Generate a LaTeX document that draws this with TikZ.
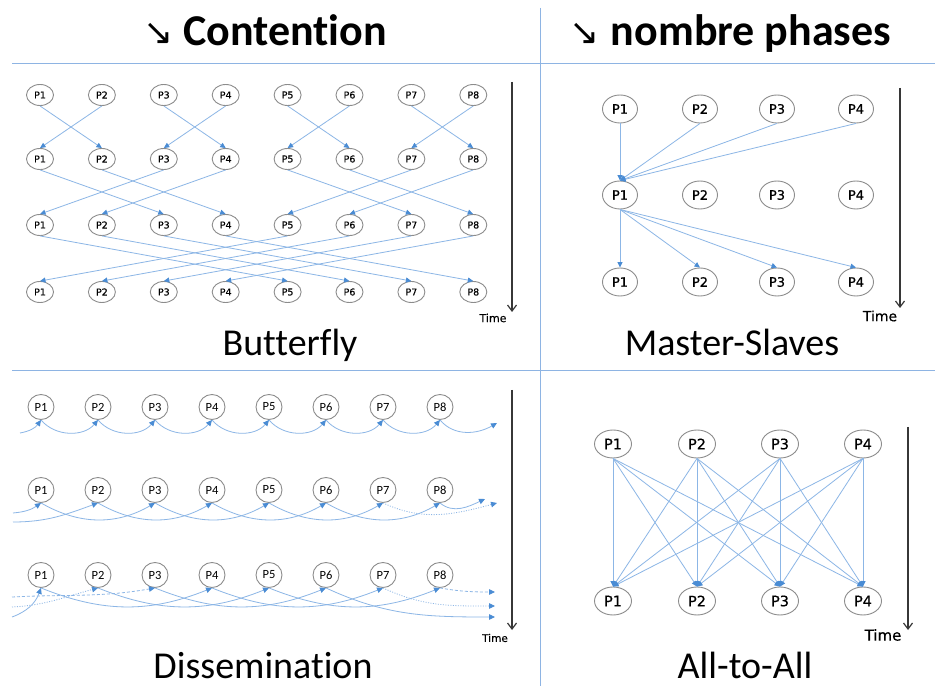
\documentclass[tikz,border=0pt]{standalone}
\usepackage{fontspec}
\setmainfont{Carlito}[Ligatures=NoCommon]
\newfontfamily\procfont{DejaVu Sans}[FakeBold=0.4]
\newfontfamily\symfont{DejaVu Sans}
\usetikzlibrary{arrows.meta,shapes.geometric}

\definecolor{rulecol}{RGB}{142,180,227}
\definecolor{linkcol}{RGB}{140,182,230}
\definecolor{tipcol}{RGB}{74,140,212}
\definecolor{ringcol}{RGB}{140,140,140}
\definecolor{clockcol}{RGB}{55,55,55}

\begin{document}
\begin{tikzpicture}[x=1pt,y=1pt,
  proc/.style={ellipse, draw=ringcol, line width=0.9pt, inner sep=0pt, fill=white},
  bproc/.style={proc, minimum width=27pt, minimum height=21pt,
    font=\procfont\fontsize{9.5}{10}\selectfont},
  mproc/.style={proc, minimum width=35pt, minimum height=28pt,
    font=\procfont\fontsize{13}{14}\selectfont},
  aproc/.style={proc, minimum width=37pt, minimum height=28pt,
    font=\procfont\fontsize{14.5}{15}\selectfont},
  dproc/.style={proc, minimum width=26pt, minimum height=25pt,
    font=\fontsize{12.5}{13}\selectfont},
  msg/.style={draw=linkcol, line width=0.8pt,
    -{Triangle[length=5.5pt,width=5pt,color=tipcol]}},
  dmsg/.style={msg, -{Triangle[length=6pt,width=5.5pt,color=tipcol]}},
  dashmsg/.style={dmsg, dash pattern=on 3pt off 2pt},
  dotmsg/.style={dmsg, dash pattern=on 1pt off 1.5pt},
  rulel/.style={draw=rulecol, line width=0.9pt},
  clock/.style={draw=clockcol, line width=1.2pt,
    -{Straight Barb[length=6pt,width=9pt]}},
  timelbl/.style={font=\procfont\fontsize{#1}{#1}\selectfont, inner sep=0pt},
  head/.style={font=\fontsize{44}{48}\selectfont\bfseries, inner sep=0pt, anchor=base},
  arrowglyph/.style={font=\symfont\fontsize{36}{38}\selectfont, inner sep=0pt},
  caption/.style={font=\fontsize{38}{40}\selectfont, inner sep=0pt, anchor=base}
]
\useasboundingbox (0,0) rectangle (935,686);
\fill[white] (0,0) rectangle (935,686);

% frame rules
\coordinate (rt-l) at (12,623);  \coordinate (rt-r) at (935,623);
\coordinate (rm-l) at (12,316);  \coordinate (rm-r) at (935,316);
\coordinate (rv-t) at (540,678); \coordinate (rv-b) at (540,0);
\draw[rulel] (rt-l) -- (rt-r);
\draw[rulel] (rm-l) -- (rm-r);
\draw[rulel] (rv-t) -- (rv-b);

% column headings
\node[arrowglyph] (ha1) at (159,652) {↘};
\node[head] (h1) at (285,640) {Contention};
\node[arrowglyph] (ha2) at (585,652) {↘};
\node[head] (h2) at (751,640) {nombre phases};

% ---------------- Butterfly ----------------
\foreach \r/\yy in {1/591,2/527,3/461,4/394}
  \foreach \i in {1,...,8}
    \node[bproc] (b\r-\i) at ({40+61.9*(\i-1)},\yy) {P\i};
\foreach \s/\t in {1/2,2/1,3/4,4/3,5/6,6/5,7/8,8/7}
  \draw[msg] (b1-\s.south) -- (b2-\t.north);
\foreach \s/\t in {1/3,2/4,3/1,4/2,5/7,6/8,7/5,8/6}
  \draw[msg] (b2-\s.south) -- (b3-\t.north);
\foreach \s/\t in {1/5,2/6,3/7,4/8,5/1,6/2,7/3,8/4}
  \draw[msg] (b3-\s.south) -- (b4-\t.north);
\coordinate (tb-top) at (512,604); \coordinate (tb-bot) at (512,374);
\draw[clock] (tb-top) -- (tb-bot);
\node[timelbl=11] (tb) at (493,368) {Time};
\node[caption] (cap-b) at (290,330) {Butterfly};

% ---------------- Master-Slaves ----------------
\foreach \r/\yy in {1/577,2/491,3/404}
  \foreach \i/\xx in {1/620,2/700,3/777,4/856}
    \node[mproc] (m\r-\i) at (\xx,\yy) {P\i};
\foreach \s in {1,...,4}
  \draw[msg] (m1-\s.south) -- (m2-1.north);
\foreach \t in {1,...,4}
  \draw[msg] (m2-1.south) -- (m3-\t.north);
\coordinate (tm-top) at (900,598); \coordinate (tm-bot) at (900,378);
\draw[clock] (tm-top) -- (tm-bot);
\node[timelbl=14] (tm) at (880,370) {Time};
\node[caption] (cap-m) at (732,330) {Master-Slaves};

% ---------------- Dissemination ----------------
\foreach \r/\yy in {1/279,2/196,3/111}
  \foreach \i in {1,...,8}
    \node[dproc] (d\r-\i) at ({41+57*(\i-1)},\yy) {P\i};

% round 1: distance 1
\coordinate (d1-in) at (20,253);
\coordinate (d1-out) at (497,263);
\draw[dmsg] (d1-in) to[out=10,in=-125] (d1-1.south);
\foreach \s/\t in {1/2,2/3,3/4,4/5,5/6,6/7,7/8}
  \draw[dmsg] (d1-\s.south) to[out=-50,in=-130] (d1-\t.south);
\draw[dmsg] (d1-8.south) to[out=-50,in=-150] (d1-out);

% round 2: distance 2
\coordinate (d2-inA) at (13,173);
\coordinate (d2-inB) at (13,164);
\coordinate (d2-outA) at (485,187);
\coordinate (d2-outB) at (497,183);
\draw[dmsg] (d2-inA) to[out=5,in=-145] (d2-1.south);
\draw[dmsg] (d2-inB) to[out=0,in=-160] (d2-2.south);
\foreach \s/\t in {1/3,2/4,3/5,4/6,5/7,6/8}
  \draw[dmsg] (d2-\s.south) to[out=-30,in=-150] (d2-\t.south);
\draw[dmsg] (d2-8.south) to[out=-40,in=-155] (d2-outA);
\draw[dotmsg] (d2-7.south) to[out=-25,in=-165] (d2-outB);

% round 3: distance 3
\coordinate (d3-inA) at (12,89);
\coordinate (d3-inB) at (12,79);
\coordinate (d3-inC) at (12,69);
\coordinate (d3-outA) at (495,94);
\coordinate (d3-outB) at (495,80);
\coordinate (d3-outC) at (495,69);
\draw[dashmsg] (d3-inA) to[out=3,in=-170] (d3-3.south);
\draw[dotmsg] (d3-inB) to[out=3,in=-165] (d3-2.south);
\draw[dmsg] (d3-inC) to[out=20,in=-110] (d3-1.south);
\foreach \s/\t in {1/4,2/5,3/6,4/7,5/8}
  \draw[dmsg] (d3-\s.south) to[out=-22,in=-158] (d3-\t.south);
\draw[dmsg] (d3-6.south) to[out=-25,in=180] (d3-outC);
\draw[dotmsg] (d3-7.south) to[out=-25,in=180] (d3-outB);
\draw[dashmsg] (d3-8.south) to[out=-10,in=180] (d3-outA);

\coordinate (td-top) at (512,296); \coordinate (td-bot) at (512,56);
\draw[clock] (td-top) -- (td-bot);
\node[timelbl=10.5] (td) at (495,48) {Time};
\node[caption] (cap-d) at (263,8) {Dissemination};

% ---------------- All-to-All ----------------
\foreach \r/\yy in {1/242,2/85}
  \foreach \i/\xx in {1/613,2/697,3/780,4/863}
    \node[aproc] (a\r-\i) at (\xx,\yy) {P\i};
\foreach \s in {1,...,4}
  \foreach \t in {1,...,4}
    \draw[msg] (a1-\s.south) -- (a2-\t.north);
\coordinate (ta-top) at (908,259); \coordinate (ta-bot) at (908,56);
\draw[clock] (ta-top) -- (ta-bot);
\node[timelbl=15] (ta) at (883,51) {Time};
\node[caption] (cap-a) at (745,8) {All-to-All};
\end{tikzpicture}
\end{document}
